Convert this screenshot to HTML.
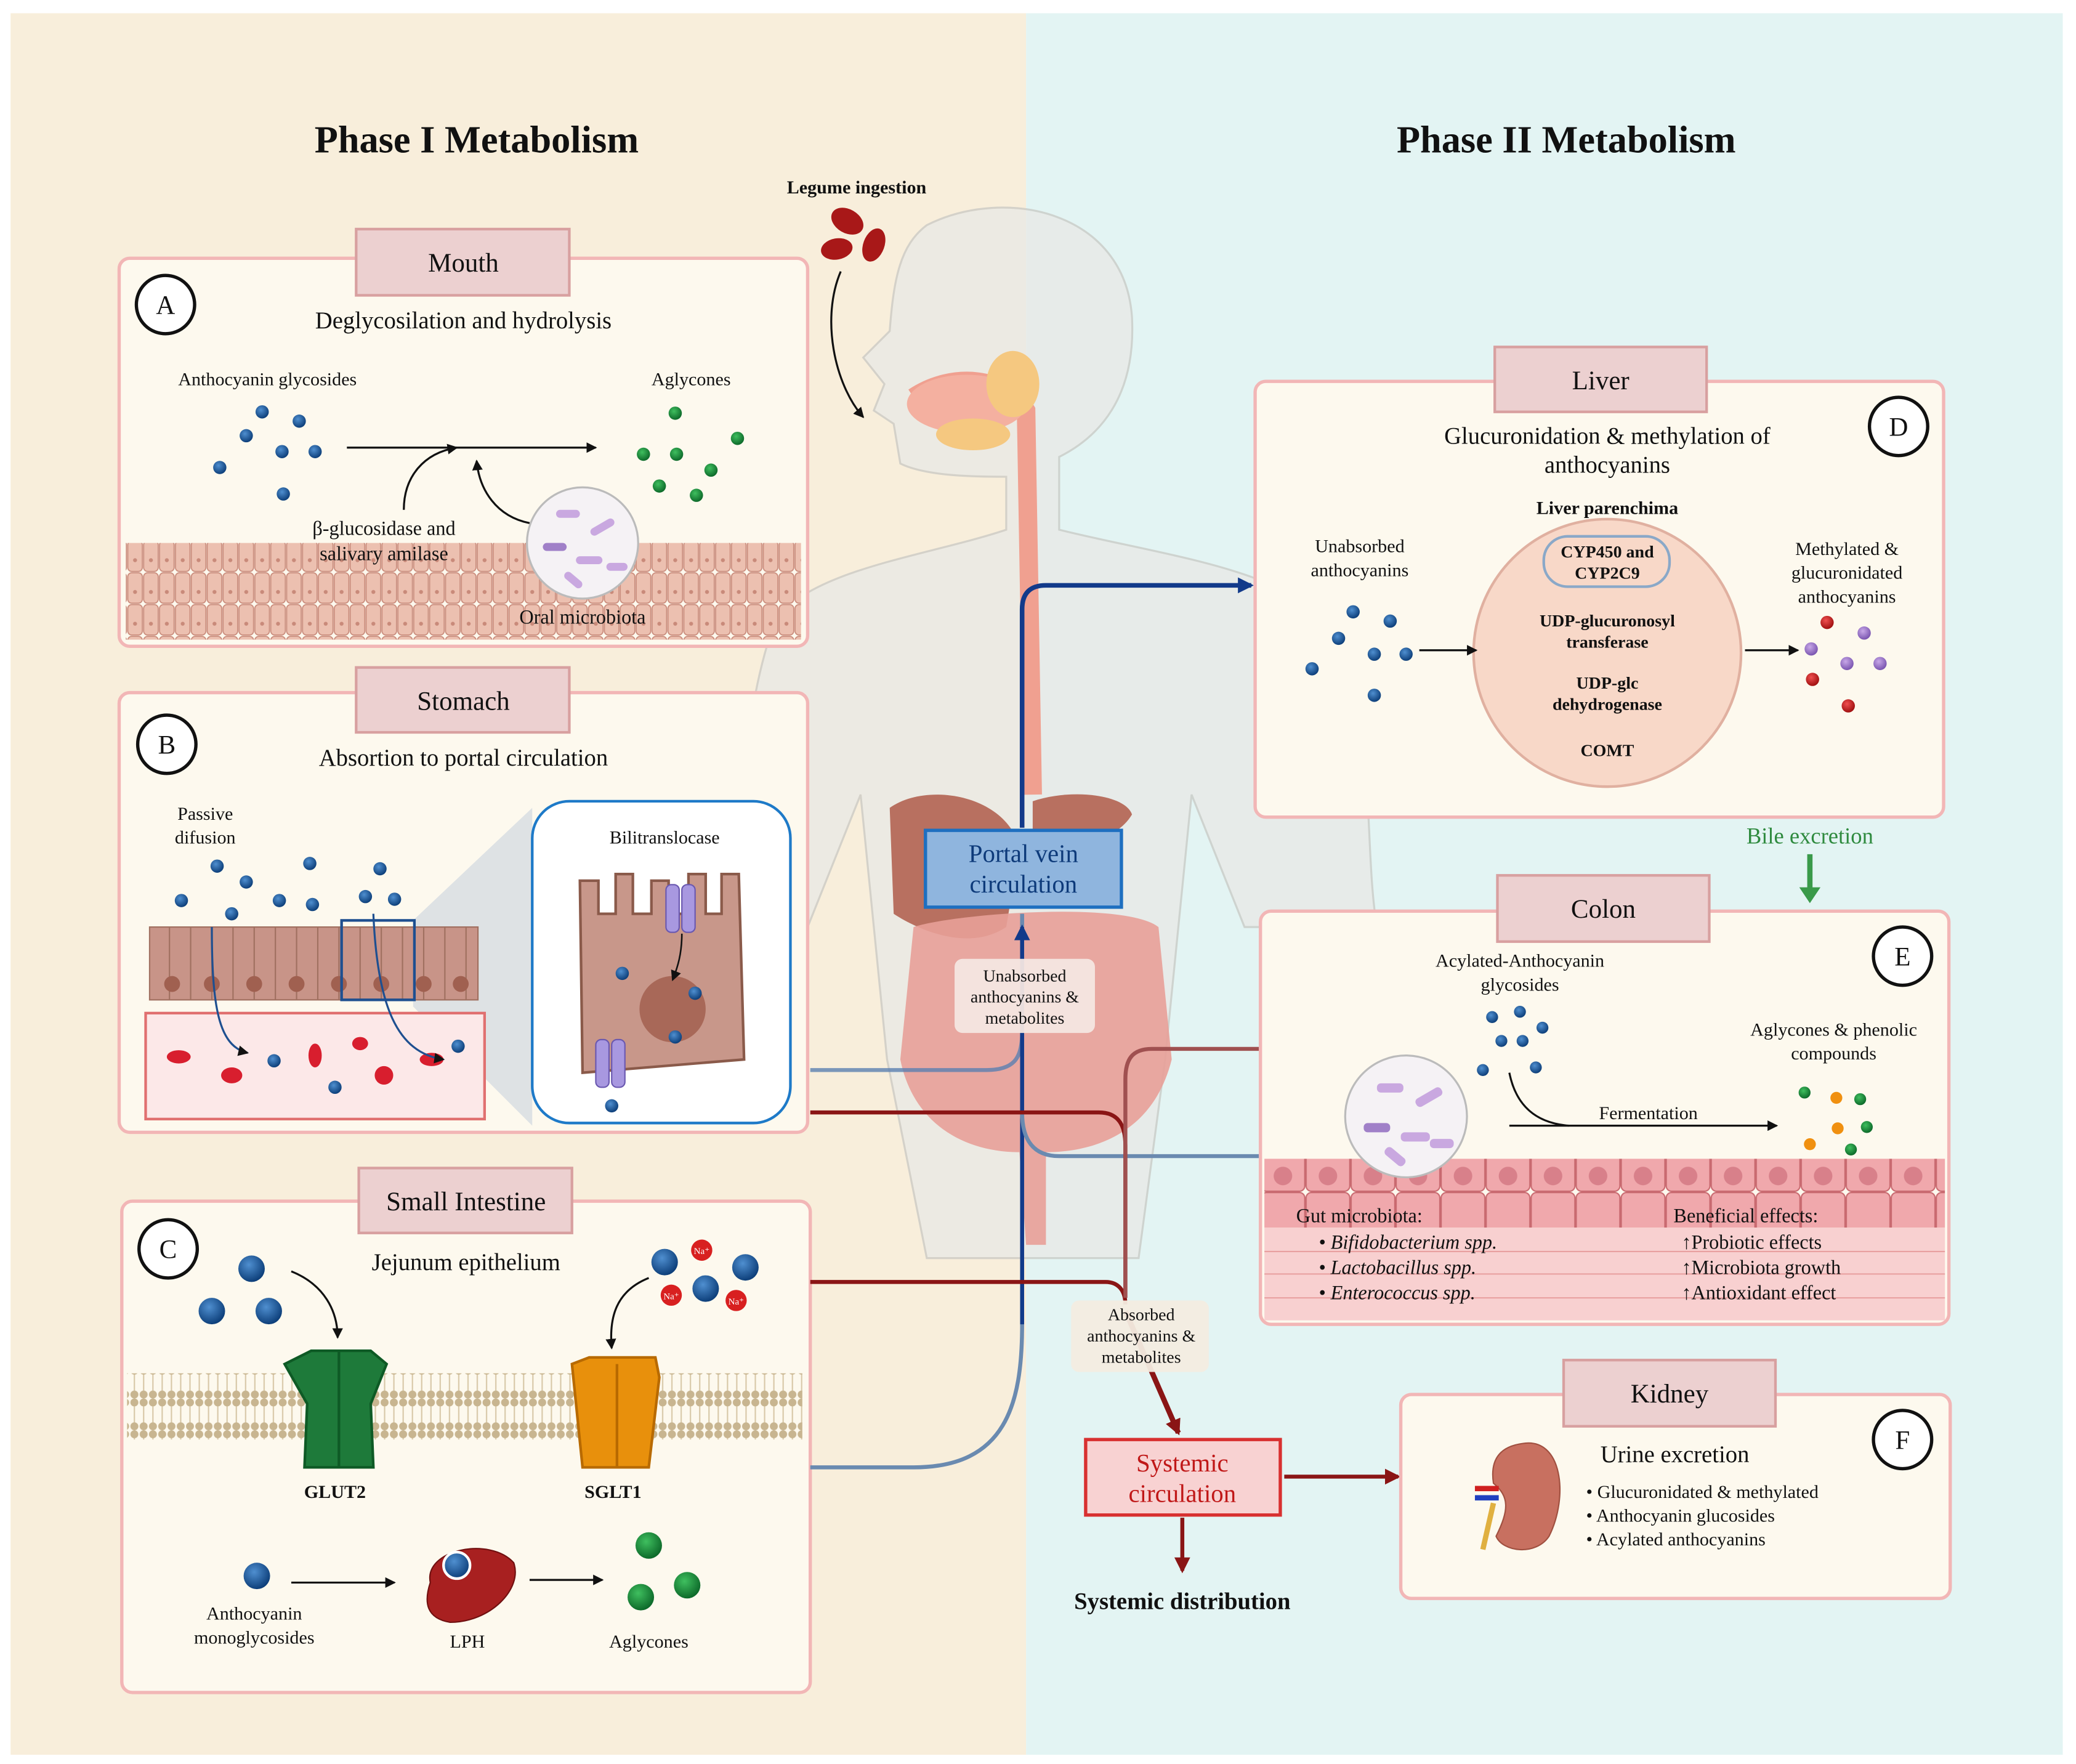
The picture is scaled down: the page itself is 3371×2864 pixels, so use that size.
<!DOCTYPE html>
<html><head><meta charset="utf-8">
<style>
html,body{margin:0;padding:0;background:#fff}
svg{display:block}
text{font-family:"Liberation Serif",serif;fill:#111}
</style></head><body>
<svg width="3371" height="2864" viewBox="0 0 1568 1332" preserveAspectRatio="none" xmlns="http://www.w3.org/2000/svg">
<defs>
<radialGradient id="bd" cx="40%" cy="35%" r="65%"><stop offset="0" stop-color="#4f8fd0"/><stop offset="1" stop-color="#0d3f7a"/></radialGradient>
<radialGradient id="gd" cx="40%" cy="35%" r="65%"><stop offset="0" stop-color="#3fbf5f"/><stop offset="1" stop-color="#0d6a2a"/></radialGradient>
<radialGradient id="rd" cx="40%" cy="35%" r="65%"><stop offset="0" stop-color="#f05050"/><stop offset="1" stop-color="#a01010"/></radialGradient>
<radialGradient id="pd" cx="40%" cy="35%" r="65%"><stop offset="0" stop-color="#c8a8e8"/><stop offset="1" stop-color="#7a55b0"/></radialGradient>
<pattern id="cells" width="12" height="24" patternUnits="userSpaceOnUse"><rect x="0.5" y="0.5" width="11" height="23" rx="3" fill="#ecc0b0" stroke="#c98a7a" stroke-width="0.8"/><circle cx="6" cy="15" r="1.5" fill="#c98a7a"/></pattern>
<pattern id="ccells" width="34" height="50" patternUnits="userSpaceOnUse"><rect x="0.5" y="0.5" width="33" height="49" rx="4" fill="#f0a8ac" stroke="#c96a70"/><circle cx="17" cy="38" r="7" fill="#d8808a"/></pattern>
<pattern id="mem" width="7" height="24" patternUnits="userSpaceOnUse"><circle cx="3.5" cy="3" r="3" fill="#c8b590"/><circle cx="3.5" cy="21" r="3" fill="#c8b590"/><line x1="3.5" y1="6" x2="3.5" y2="18" stroke="#d8c8a8" stroke-width="1"/></pattern>
<marker id="ak" markerWidth="8" markerHeight="8" refX="7" refY="4" orient="auto" markerUnits="userSpaceOnUse"><path d="M0,0 L8,4 L0,8 Z" fill="#111"/></marker>
<marker id="ab" markerWidth="12" markerHeight="12" refX="10" refY="6" orient="auto" markerUnits="userSpaceOnUse"><path d="M0,0 L12,6 L0,12 Z" fill="#123a8a"/></marker>
<marker id="ar" markerWidth="12" markerHeight="12" refX="10" refY="6" orient="auto" markerUnits="userSpaceOnUse"><path d="M0,0 L12,6 L0,12 Z" fill="#8a1515"/></marker>
</defs>

<rect x="8" y="10" width="767" height="1315" fill="#f8eedb"/>
<rect x="775" y="10" width="783" height="1315" fill="#e3f4f3"/>

<text x="360" y="115" font-size="29" text-anchor="middle" font-weight="bold">Phase I Metabolism</text>
<text x="1183" y="115" font-size="29" text-anchor="middle" font-weight="bold">Phase II Metabolism</text>

<g fill="#e9e9e6" stroke="#c8c8c4" stroke-width="1.5" opacity="0.75">
<path d="M700,170 C760,140 850,160 855,240 C858,300 830,330 800,345 L800,400 C880,420 980,430 1010,480 C1040,560 1030,640 1040,700 L940,700 L900,600 L880,800 L860,950 L700,950 L670,800 L650,600 L610,700 L555,700 C560,620 560,540 585,470 C610,430 700,420 760,400 L760,360 C740,360 700,360 680,350 L675,320 L660,310 L668,290 L652,270 L672,250 C675,210 680,185 700,170 Z"/>
</g>
<path d="M690,300 C720,280 760,285 775,310 L780,600" fill="none" stroke="#f0a090" stroke-width="14"/>
<ellipse cx="730" cy="305" rx="45" ry="22" fill="#f4b0a0"/>
<ellipse cx="765" cy="290" rx="20" ry="25" fill="#f5c880"/>
<ellipse cx="735" cy="328" rx="28" ry="12" fill="#f5c880"/>
<path d="M672,610 C700,590 760,600 770,640 L760,700 C730,720 690,700 675,690 Z" fill="#b87060"/>
<path d="M780,605 C810,595 850,600 855,615 C840,640 800,640 780,630 Z" fill="#b87060"/>
<path d="M690,700 C720,690 850,680 875,700 L885,800 C870,860 820,870 790,870 L790,940 L775,940 L770,870 C730,870 690,850 680,800 Z" fill="#e8a098" opacity="0.9"/>
<ellipse cx="640" cy="167" rx="13" ry="9" fill="#a81818" transform="rotate(30 640 167)"/>
<ellipse cx="632" cy="188" rx="12" ry="8" fill="#a81818" transform="rotate(-10 632 188)"/>
<ellipse cx="660" cy="185" rx="8" ry="13" fill="#a81818" transform="rotate(20 660 185)"/>
<text x="647" y="146" font-size="14" text-anchor="middle" font-weight="bold">Legume ingestion</text>
<path d="M635,205 C620,240 630,290 652,315" fill="none" stroke="#111" stroke-width="1.5" marker-end="url(#ak)"/>

<!-- MOUTH -->
<rect x="90" y="195" width="520" height="293" rx="8" fill="#fdf9ee" stroke="#f2b6b6" stroke-width="2.5"/>
<rect x="95" y="410" width="510" height="73" fill="url(#cells)"/>
<rect x="269" y="173" width="161" height="50" fill="#ecd0d0" stroke="#d8a0a0" stroke-width="2"/>
<text x="350" y="205" font-size="20" text-anchor="middle">Mouth</text>
<circle cx="125" cy="230" r="22" fill="#fff" stroke="#111" stroke-width="2.5"/><text x="125" y="237" font-size="20" text-anchor="middle">A</text>
<text x="350" y="248" font-size="18" text-anchor="middle">Deglycosilation and hydrolysis</text>
<text x="202" y="291" font-size="14" text-anchor="middle">Anthocyanin glycosides</text>
<text x="522" y="291" font-size="14" text-anchor="middle">Aglycones</text>
<g fill="url(#bd)"><circle cx="198" cy="311" r="5"/><circle cx="226" cy="318" r="5"/><circle cx="186" cy="329" r="5"/><circle cx="213" cy="341" r="5"/><circle cx="238" cy="341" r="5"/><circle cx="166" cy="353" r="5"/><circle cx="214" cy="373" r="5"/></g>
<g fill="url(#gd)"><circle cx="510" cy="312" r="5"/><circle cx="557" cy="331" r="5"/><circle cx="486" cy="343" r="5"/><circle cx="511" cy="343" r="5"/><circle cx="537" cy="355" r="5"/><circle cx="498" cy="367" r="5"/><circle cx="526" cy="374" r="5"/></g>
<line x1="262" y1="338" x2="450" y2="338" stroke="#111" stroke-width="1.5" marker-end="url(#ak)"/>
<path d="M305,385 C305,360 320,342 345,338" fill="none" stroke="#111" stroke-width="1.5" marker-end="url(#ak)"/>
<path d="M400,395 C375,390 362,370 360,348" fill="none" stroke="#111" stroke-width="1.5" marker-end="url(#ak)"/>
<circle cx="440" cy="410" r="42" fill="#f5f2f5" stroke="#bbb" stroke-width="1.5"/>
<g fill="#c9a8e0"><rect x="420" y="385" width="18" height="6" rx="3"/><rect x="445" y="395" width="20" height="6" rx="3" transform="rotate(-30 455 398)"/><rect x="410" y="410" width="18" height="6" rx="3" fill="#a080c8"/><rect x="435" y="420" width="20" height="6" rx="3"/><rect x="425" y="435" width="16" height="6" rx="3" transform="rotate(40 433 438)"/><rect x="458" y="425" width="16" height="6" rx="3"/></g>
<text x="290" y="404" font-size="15" text-anchor="middle">β-glucosidase and</text>
<text x="290" y="423" font-size="15" text-anchor="middle">salivary amilase</text>
<text x="440" y="471" font-size="15" text-anchor="middle">Oral microbiota</text>

<!-- STOMACH -->
<rect x="90" y="523" width="520" height="332" rx="8" fill="#fdf9ee" stroke="#f2b6b6" stroke-width="2.5"/>
<rect x="269" y="504" width="161" height="49" fill="#ecd0d0" stroke="#d8a0a0" stroke-width="2"/>
<text x="350" y="536" font-size="20" text-anchor="middle">Stomach</text>
<circle cx="126" cy="562" r="22" fill="#fff" stroke="#111" stroke-width="2.5"/><text x="126" y="569" font-size="20" text-anchor="middle">B</text>
<text x="350" y="578" font-size="18" text-anchor="middle">Absortion to portal circulation</text>
<text x="155" y="619" font-size="14" text-anchor="middle">Passive</text>
<text x="155" y="637" font-size="14" text-anchor="middle">difusion</text>
<polygon points="312,695 402,610 402,850 312,760" fill="#d0d8e0" opacity="0.7"/>
<rect x="113" y="700" width="248" height="55" fill="#c89488" stroke="#a07060"/>
<g stroke="#a07060" stroke-width="1"><path d="M128,700V755 M144,700V755 M160,700V755 M176,700V755 M192,700V755 M208,700V755 M224,700V755 M240,700V755 M256,700V755 M272,700V755 M288,700V755 M304,700V755 M320,700V755 M336,700V755 M352,700V755"/></g>
<g fill="#a06050"><circle cx="130" cy="743" r="6"/><circle cx="160" cy="743" r="6"/><circle cx="192" cy="743" r="6"/><circle cx="224" cy="743" r="6"/><circle cx="256" cy="743" r="6"/><circle cx="288" cy="743" r="6"/><circle cx="320" cy="743" r="6"/><circle cx="348" cy="743" r="6"/></g>
<rect x="110" y="765" width="256" height="80" fill="#fce8e8" stroke="#e07070" stroke-width="2"/>
<g fill="#d81e2e"><ellipse cx="135" cy="798" rx="9" ry="5"/><ellipse cx="175" cy="812" rx="8" ry="6"/><ellipse cx="238" cy="797" rx="5" ry="9"/><ellipse cx="290" cy="812" rx="7" ry="7"/><ellipse cx="326" cy="800" rx="9" ry="5"/><ellipse cx="272" cy="788" rx="6" ry="5"/></g>
<rect x="258" y="695" width="55" height="60" fill="none" stroke="#1e4f90" stroke-width="2"/>
<g fill="url(#bd)"><circle cx="164" cy="654" r="5"/><circle cx="186" cy="666" r="5"/><circle cx="234" cy="652" r="5"/><circle cx="137" cy="680" r="5"/><circle cx="211" cy="680" r="5"/><circle cx="236" cy="683" r="5"/><circle cx="287" cy="656" r="5"/><circle cx="276" cy="677" r="5"/><circle cx="298" cy="679" r="5"/><circle cx="175" cy="690" r="5"/><circle cx="207" cy="801" r="5"/><circle cx="253" cy="821" r="5"/><circle cx="346" cy="790" r="5"/></g>
<path d="M160,700 C160,760 165,790 187,795" fill="none" stroke="#1e4f90" stroke-width="1.5" marker-end="url(#ak)"/>
<path d="M282,690 C285,760 300,795 335,800" fill="none" stroke="#1e4f90" stroke-width="1.5" marker-end="url(#ak)"/>
<rect x="402" y="605" width="195" height="243" rx="28" fill="#fff" stroke="#1e7ac8" stroke-width="2"/>
<text x="502" y="637" font-size="14" text-anchor="middle">Bilitranslocase</text>
<path d="M438,665 L452,665 L452,690 L465,690 L465,660 L478,660 L478,690 L492,690 L492,665 L505,665 L505,690 L520,690 L520,660 L533,660 L533,690 L545,690 L545,660 L558,660 L562,800 L440,810 Z" fill="#c8978a" stroke="#8a5a4a" stroke-width="2"/>
<circle cx="508" cy="762" r="25" fill="#a86858"/>
<g fill="#a898e0" stroke="#6a58b0"><rect x="503" y="668" width="10" height="36" rx="4"/><rect x="515" y="668" width="10" height="36" rx="4"/><rect x="450" y="785" width="10" height="36" rx="4"/><rect x="462" y="785" width="10" height="36" rx="4"/></g>
<g fill="url(#bd)"><circle cx="470" cy="735" r="5"/><circle cx="525" cy="750" r="5"/><circle cx="510" cy="783" r="5"/><circle cx="462" cy="835" r="5"/></g>
<path d="M515,705 C515,720 512,730 508,740" fill="none" stroke="#111" stroke-width="1.2" marker-end="url(#ak)"/>

<!-- SMALL INTESTINE -->
<rect x="92" y="907" width="520" height="371" rx="8" fill="#fdf9ee" stroke="#f2b6b6" stroke-width="2.5"/>
<rect x="271" y="882" width="161" height="49" fill="#ecd0d0" stroke="#d8a0a0" stroke-width="2"/>
<text x="352" y="914" font-size="20" text-anchor="middle">Small Intestine</text>
<circle cx="127" cy="943" r="22" fill="#fff" stroke="#111" stroke-width="2.5"/><text x="127" y="950" font-size="20" text-anchor="middle">C</text>
<text x="352" y="959" font-size="18" text-anchor="middle">Jejunum epithelium</text>
<rect x="96" y="1037" width="510" height="50" fill="url(#mem)"/>
<g fill="url(#bd)"><circle cx="190" cy="958" r="10"/><circle cx="160" cy="990" r="10"/><circle cx="203" cy="990" r="10"/><circle cx="502" cy="953" r="10"/><circle cx="563" cy="957" r="10"/><circle cx="533" cy="973" r="10"/></g>
<g fill="#d82020"><circle cx="530" cy="944" r="8"/><circle cx="507" cy="978" r="8"/><circle cx="556" cy="982" r="8"/></g>
<g font-size="7" text-anchor="middle"><text x="530" y="947" style="fill:#fff">Na⁺</text><text x="507" y="981" style="fill:#fff">Na⁺</text><text x="556" y="985" style="fill:#fff">Na⁺</text></g>
<path d="M220,960 C245,970 255,990 255,1010" fill="none" stroke="#111" stroke-width="1.5" marker-end="url(#ak)"/>
<path d="M490,965 C465,975 460,995 462,1018" fill="none" stroke="#111" stroke-width="1.5" marker-end="url(#ak)"/>
<path d="M215,1030 L235,1020 L280,1020 L292,1030 L280,1060 L282,1108 L230,1108 L232,1060 Z" fill="#1e7a3a" stroke="#0e5a25" stroke-width="2"/>
<line x1="256" y1="1020" x2="256" y2="1108" stroke="#0e5a25" stroke-width="2"/>
<path d="M432,1030 L445,1025 L495,1025 L498,1040 L490,1108 L440,1108 Z" fill="#e8900c" stroke="#b86a00" stroke-width="2"/>
<line x1="466" y1="1030" x2="466" y2="1108" stroke="#b86a00" stroke-width="2"/>
<text x="253" y="1131" font-size="14" text-anchor="middle" font-weight="bold" font-family="Liberation Sans, sans-serif">GLUT2</text>
<text x="463" y="1131" font-size="14" text-anchor="middle" font-weight="bold" font-family="Liberation Sans, sans-serif">SGLT1</text>
<circle cx="194" cy="1190" r="10" fill="url(#bd)"/>
<text x="192" y="1223" font-size="14" text-anchor="middle">Anthocyanin</text>
<text x="192" y="1241" font-size="14" text-anchor="middle">monoglycosides</text>
<line x1="220" y1="1195" x2="298" y2="1195" stroke="#111" stroke-width="1.5" marker-end="url(#ak)"/>
<path d="M325,1195 C320,1170 370,1160 388,1180 C395,1200 370,1225 340,1225 C322,1222 320,1210 325,1195 Z" fill="#a82020" stroke="#701010"/>
<circle cx="345" cy="1182" r="10" fill="url(#bd)" stroke="#fff" stroke-width="2"/>
<text x="353" y="1244" font-size="14" text-anchor="middle">LPH</text>
<line x1="400" y1="1193" x2="455" y2="1193" stroke="#111" stroke-width="1.5" marker-end="url(#ak)"/>
<g fill="url(#gd)"><circle cx="490" cy="1167" r="10"/><circle cx="484" cy="1206" r="10"/><circle cx="519" cy="1197" r="10"/></g>
<text x="490" y="1244" font-size="14" text-anchor="middle">Aglycones</text>

<!-- connectors -->
<path d="M612,808 L745,808 C765,808 772,800 772,780 L772,690" fill="none" stroke="#5a80b0" stroke-width="3" opacity="0.8"/>
<path d="M612,1108 L690,1108 C760,1108 772,1060 772,1000 L772,690" fill="none" stroke="#6a8ab0" stroke-width="3"/>
<path d="M772,1000 L772,700" fill="none" stroke="#123a8a" stroke-width="3" marker-end="url(#ab)"/>
<path d="M772,625 L772,460 C772,448 778,442 790,442 L945,442" fill="none" stroke="#123a8a" stroke-width="3.5" marker-end="url(#ab)"/>
<path d="M952,873 L800,873 C780,873 772,860 772,840" fill="none" stroke="#6a8ab0" stroke-width="3"/>
<path d="M612,840 L830,840 C845,840 850,850 850,865 L850,980" fill="none" stroke="#8a1515" stroke-width="3"/>
<path d="M612,968 L835,968 C845,968 850,975 850,985" fill="none" stroke="#8a1515" stroke-width="3"/>
<path d="M952,792 L870,792 C855,792 850,800 850,815 L850,980" fill="none" stroke="#a05050" stroke-width="3"/>
<path d="M850,990 L890,1082" fill="none" stroke="#8a1515" stroke-width="4" marker-end="url(#ar)"/>
<path d="M970,1115 L1056,1115" fill="none" stroke="#8a1515" stroke-width="3" marker-end="url(#ar)"/>
<path d="M893,1146 L893,1186" fill="none" stroke="#8a1515" stroke-width="3" marker-end="url(#ar)"/>

<rect x="721" y="724" width="106" height="56" rx="6" fill="#f4e6e2" opacity="0.95"/>
<text x="774" y="741" font-size="13" text-anchor="middle">Unabsorbed</text>
<text x="774" y="757" font-size="13" text-anchor="middle">anthocyanins &amp;</text>
<text x="774" y="773" font-size="13" text-anchor="middle">metabolites</text>
<rect x="809" y="982" width="104" height="54" rx="6" fill="#f3ece0" opacity="0.95"/>
<text x="862" y="997" font-size="13" text-anchor="middle">Absorbed</text>
<text x="862" y="1013" font-size="13" text-anchor="middle">anthocyanins &amp;</text>
<text x="862" y="1029" font-size="13" text-anchor="middle">metabolites</text>

<rect x="699" y="627" width="148" height="58" fill="#8fb5de" stroke="#1e6fc0" stroke-width="2.5"/>
<text x="773" y="651" font-size="19" text-anchor="middle" style="fill:#0d3a7a">Portal vein</text>
<text x="773" y="674" font-size="19" text-anchor="middle" style="fill:#0d3a7a">circulation</text>
<rect x="820" y="1087" width="147" height="57" fill="#f8d2d2" stroke="#d83030" stroke-width="2.5"/>
<text x="893" y="1111" font-size="19" text-anchor="middle" style="fill:#c01818">Systemic</text>
<text x="893" y="1134" font-size="19" text-anchor="middle" style="fill:#c01818">circulation</text>
<text x="893" y="1215" font-size="18" text-anchor="middle" font-weight="bold">Systemic distribution</text>

<!-- LIVER -->
<rect x="948" y="288" width="520" height="329" rx="8" fill="#fdf9ee" stroke="#f2b6b6" stroke-width="2.5"/>
<rect x="1129" y="262" width="160" height="49" fill="#ecd0d0" stroke="#d8a0a0" stroke-width="2"/>
<text x="1209" y="294" font-size="20" text-anchor="middle">Liver</text>
<circle cx="1434" cy="322" r="22" fill="#fff" stroke="#111" stroke-width="2.5"/><text x="1434" y="329" font-size="20" text-anchor="middle">D</text>
<text x="1214" y="335" font-size="18" text-anchor="middle">Glucuronidation &amp; methylation of</text>
<text x="1214" y="357" font-size="18" text-anchor="middle">anthocyanins</text>
<circle cx="1214" cy="493" r="101" fill="#f8d8c8" stroke="#e0b0a0" stroke-width="2"/>
<text x="1214" y="388" font-size="14" text-anchor="middle" font-weight="bold">Liver parenchima</text>
<rect x="1166" y="405" width="95" height="38" rx="18" fill="none" stroke="#8aa8c8" stroke-width="2"/>
<text x="1214" y="421" font-size="13" text-anchor="middle" font-weight="bold">CYP450 and</text>
<text x="1214" y="437" font-size="13" text-anchor="middle" font-weight="bold">CYP2C9</text>
<text x="1214" y="473" font-size="13" text-anchor="middle" font-weight="bold">UDP-glucuronosyl</text>
<text x="1214" y="489" font-size="13" text-anchor="middle" font-weight="bold">transferase</text>
<text x="1214" y="520" font-size="13" text-anchor="middle" font-weight="bold">UDP-glc</text>
<text x="1214" y="536" font-size="13" text-anchor="middle" font-weight="bold">dehydrogenase</text>
<text x="1214" y="571" font-size="13" text-anchor="middle" font-weight="bold">COMT</text>
<text x="1027" y="417" font-size="14" text-anchor="middle">Unabsorbed</text>
<text x="1027" y="435" font-size="14" text-anchor="middle">anthocyanins</text>
<g fill="url(#bd)"><circle cx="1022" cy="462" r="5"/><circle cx="1050" cy="469" r="5"/><circle cx="1011" cy="482" r="5"/><circle cx="1038" cy="494" r="5"/><circle cx="1062" cy="494" r="5"/><circle cx="991" cy="505" r="5"/><circle cx="1038" cy="525" r="5"/></g>
<line x1="1072" y1="491" x2="1115" y2="491" stroke="#111" stroke-width="1.5" marker-end="url(#ak)"/>
<line x1="1318" y1="491" x2="1358" y2="491" stroke="#111" stroke-width="1.5" marker-end="url(#ak)"/>
<text x="1395" y="419" font-size="14" text-anchor="middle">Methylated &amp;</text>
<text x="1395" y="437" font-size="14" text-anchor="middle">glucuronidated</text>
<text x="1395" y="455" font-size="14" text-anchor="middle">anthocyanins</text>
<g fill="url(#rd)"><circle cx="1380" cy="470" r="5"/><circle cx="1369" cy="513" r="5"/><circle cx="1396" cy="533" r="5"/></g>
<g fill="url(#pd)"><circle cx="1408" cy="478" r="5"/><circle cx="1368" cy="490" r="5"/><circle cx="1395" cy="501" r="5"/><circle cx="1420" cy="501" r="5"/></g>
<text x="1367" y="637" font-size="17" text-anchor="middle" style="fill:#2e8a3e">Bile excretion</text>
<path d="M1367,645 L1367,678" stroke="#3a9a4a" stroke-width="4"/>
<path d="M1359,670 L1367,682 L1375,670 Z" fill="#3a9a4a"/>

<!-- COLON -->
<rect x="952" y="688" width="520" height="312" rx="8" fill="#fdf9ee" stroke="#f2b6b6" stroke-width="2.5"/>
<rect x="955" y="875" width="514" height="52" fill="url(#ccells)"/>
<rect x="955" y="927" width="514" height="70" fill="#f8d0d0"/>
<g stroke="#e8a0a0" stroke-width="1" fill="none"><path d="M955,945 H1469 M955,962 H1469 M955,980 H1469"/></g>
<rect x="1131" y="661" width="160" height="50" fill="#ecd0d0" stroke="#d8a0a0" stroke-width="2"/>
<text x="1211" y="693" font-size="20" text-anchor="middle">Colon</text>
<circle cx="1437" cy="722" r="22" fill="#fff" stroke="#111" stroke-width="2.5"/><text x="1437" y="729" font-size="20" text-anchor="middle">E</text>
<text x="1148" y="730" font-size="14" text-anchor="middle">Acylated-Anthocyanin</text>
<text x="1148" y="748" font-size="14" text-anchor="middle">glycosides</text>
<g fill="url(#bd)"><circle cx="1148" cy="764" r="4.5"/><circle cx="1127" cy="768" r="4.5"/><circle cx="1165" cy="776" r="4.5"/><circle cx="1134" cy="786" r="4.5"/><circle cx="1150" cy="786" r="4.5"/><circle cx="1120" cy="808" r="4.5"/><circle cx="1160" cy="806" r="4.5"/></g>
<text x="1385" y="782" font-size="14" text-anchor="middle">Aglycones &amp; phenolic</text>
<text x="1385" y="800" font-size="14" text-anchor="middle">compounds</text>
<g><circle cx="1363" cy="825" r="4.5" fill="url(#gd)"/><circle cx="1387" cy="829" r="4.5" fill="#f09010"/><circle cx="1405" cy="830" r="4.5" fill="url(#gd)"/><circle cx="1388" cy="852" r="4.5" fill="#f09010"/><circle cx="1410" cy="851" r="4.5" fill="url(#gd)"/><circle cx="1367" cy="864" r="4.5" fill="#f09010"/><circle cx="1398" cy="868" r="4.5" fill="url(#gd)"/></g>
<path d="M1140,810 C1145,835 1160,848 1185,850" fill="none" stroke="#111" stroke-width="1.5"/>
<line x1="1140" y1="850" x2="1342" y2="850" stroke="#111" stroke-width="1.5" marker-end="url(#ak)"/>
<text x="1245" y="845" font-size="14" text-anchor="middle">Fermentation</text>
<circle cx="1062" cy="843" r="46" fill="#f5f2f5" stroke="#bbb" stroke-width="1.5"/>
<g fill="#c9a8e0"><rect x="1040" y="818" width="20" height="7" rx="3"/><rect x="1068" y="825" width="22" height="7" rx="3" transform="rotate(-30 1079 828)"/><rect x="1030" y="848" width="20" height="7" rx="3" fill="#a080c8"/><rect x="1058" y="855" width="22" height="7" rx="3"/><rect x="1045" y="870" width="18" height="7" rx="3" transform="rotate(40 1054 873)"/><rect x="1080" y="860" width="18" height="7" rx="3"/></g>
<text x="979" y="923" font-size="15">Gut microbiota:</text>
<text x="1264" y="923" font-size="15">Beneficial effects:</text>
<g font-size="15" font-style="italic"><text x="996" y="943">•  Bifidobacterium spp.</text><text x="996" y="962">•  Lactobacillus spp.</text><text x="996" y="981">•  Enterococcus spp.</text></g>
<g font-size="15"><text x="1270" y="943">↑Probiotic effects</text><text x="1270" y="962">↑Microbiota growth</text><text x="1270" y="981">↑Antioxidant effect</text></g>

<!-- KIDNEY -->
<rect x="1058" y="1053" width="415" height="154" rx="8" fill="#fdf9ee" stroke="#f2b6b6" stroke-width="2.5"/>
<rect x="1181" y="1027" width="160" height="50" fill="#ecd0d0" stroke="#d8a0a0" stroke-width="2"/>
<text x="1261" y="1059" font-size="20" text-anchor="middle">Kidney</text>
<circle cx="1437" cy="1087" r="22" fill="#fff" stroke="#111" stroke-width="2.5"/><text x="1437" y="1094" font-size="20" text-anchor="middle">F</text>
<path d="M1150,1090 C1180,1085 1185,1130 1170,1160 C1160,1175 1135,1172 1130,1160 C1140,1140 1140,1130 1128,1120 C1125,1100 1135,1092 1150,1090 Z" fill="#c87060" stroke="#a05040"/>
<rect x="1114" y="1122" width="18" height="4" fill="#d02020"/><rect x="1114" y="1129" width="18" height="4" fill="#2040c0"/>
<path d="M1128,1135 L1120,1170" stroke="#e0b040" stroke-width="4"/>
<text x="1265" y="1104" font-size="18" text-anchor="middle">Urine excretion</text>
<g font-size="14"><text x="1198" y="1131">•  Glucuronidated &amp; methylated</text><text x="1198" y="1149">•  Anthocyanin glucosides</text><text x="1198" y="1167">•  Acylated anthocyanins</text></g>
</svg>
</body></html>
